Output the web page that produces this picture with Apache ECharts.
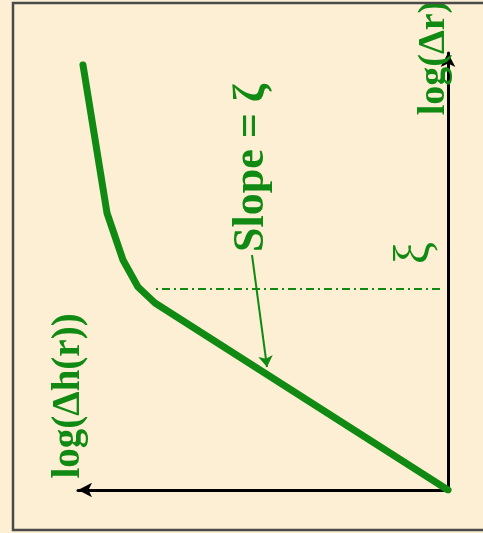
<!DOCTYPE html>
<html>
<head>
<meta charset="utf-8">
<script src="https://cdn.jsdelivr.net/npm/echarts@6/dist/echarts.min.js"></script>
<style>
  html, body { margin: 0; padding: 0; background: #fcefd3; }
  #chart { width: 483px; height: 533px; }
</style>
</head>
<body>
<div id="chart"></div>
<script>
// Roughness curve: log(Δh(r)) against log(Δr), drawn with log(Δr) pointing up
// and log(Δh(r)) pointing left.
const curveLogDh = [0, 2.93, 3.10, 3.25, 3.41, 3.65];
const curveLogDr = [0, 1.87, 2.03, 2.30, 2.77, 4.25];

// Correlation length ξ: dash-dot marker across the plot
const xiLogDr = 2.01;
const xiLogDhSpan = [0.08, 2.96];

// Pointer from the slope label to the linear part of the curve
const slopeArrowFrom = [1.96, 2.35];
const slopeArrowTo = [1.81, 1.23];

// Text annotations: [log(Δh), log(Δr), text, font size, weight]
const annotations = [
  [1.96, 3.22, 'Slope = ζ', 44, 'bold'],
  [0.32, 2.37, 'ξ', 50, 'normal'],
  [0.14, 4.32, 'log(Δr)', 38, 'bold'],
  [3.79, 0.94, 'log(Δh(r))', 39, 'bold']
];

const green = '#108a12';
const chart = echarts.init(document.getElementById('chart'));

chart.setOption({
  backgroundColor: '#fcefd3',
  animation: false,
  grid: { left: 78, right: 35, top: 53, bottom: 43, containLabel: false },
  graphic: [{
    type: 'rect',
    shape: { x: 13, y: 3, width: 520, height: 527 },
    style: { fill: 'none', stroke: '#4a4a4a', lineWidth: 2.5 },
    z: 100
  }],
  xAxis: {
    type: 'value', min: 0, max: 3.70, inverse: true, position: 'bottom',
    axisLine: { onZero: false, symbol: ['arrow', 'none'], symbolSize: [11, 14],
      lineStyle: { color: '#000', width: 3 } },
    axisTick: { show: false }, axisLabel: { show: false }, splitLine: { show: false }
  },
  yAxis: {
    type: 'value', min: 0, max: 4.37, position: 'right',
    axisLine: { onZero: false, symbol: ['none', 'arrow'], symbolSize: [11, 14],
      lineStyle: { color: '#000', width: 3 } },
    axisTick: { show: false }, axisLabel: { show: false }, splitLine: { show: false }
  },
  series: [
    {
      type: 'line',
      data: curveLogDh.map((h, i) => [h, curveLogDr[i]]),
      showSymbol: false,
      lineStyle: { color: green, width: 7, cap: 'round', join: 'round' },
      z: 5
    },
    {
      type: 'line',
      data: xiLogDhSpan.map(h => [h, xiLogDr]),
      showSymbol: false,
      lineStyle: { color: green, width: 1.8, type: [8, 4, 2, 4] },
      z: 4
    },
    {
      type: 'lines',
      coordinateSystem: 'cartesian2d',
      data: [{ coords: [slopeArrowFrom, slopeArrowTo] }],
      symbol: ['none', 'arrow'],
      symbolSize: [0, 11],
      lineStyle: { color: green, width: 2, opacity: 1 },
      z: 6
    },
    {
      type: 'scatter',
      clip: false,
      symbolSize: 0,
      itemStyle: { color: green, opacity: 1 },
      data: annotations.map(a => ({ value: [a[0], a[1]], name: a[2],
        label: { fontSize: a[3], fontWeight: a[4] } })),
      label: {
        show: true,
        position: 'inside',
        rotate: 90,
        formatter: p => p.name,
        color: green,
        opacity: 1,
        textBorderWidth: 0,
        fontFamily: 'Liberation Serif',
        align: 'center',
        verticalAlign: 'middle'
      },
      z: 10
    }
  ]
});
</script>
</body>
</html>
